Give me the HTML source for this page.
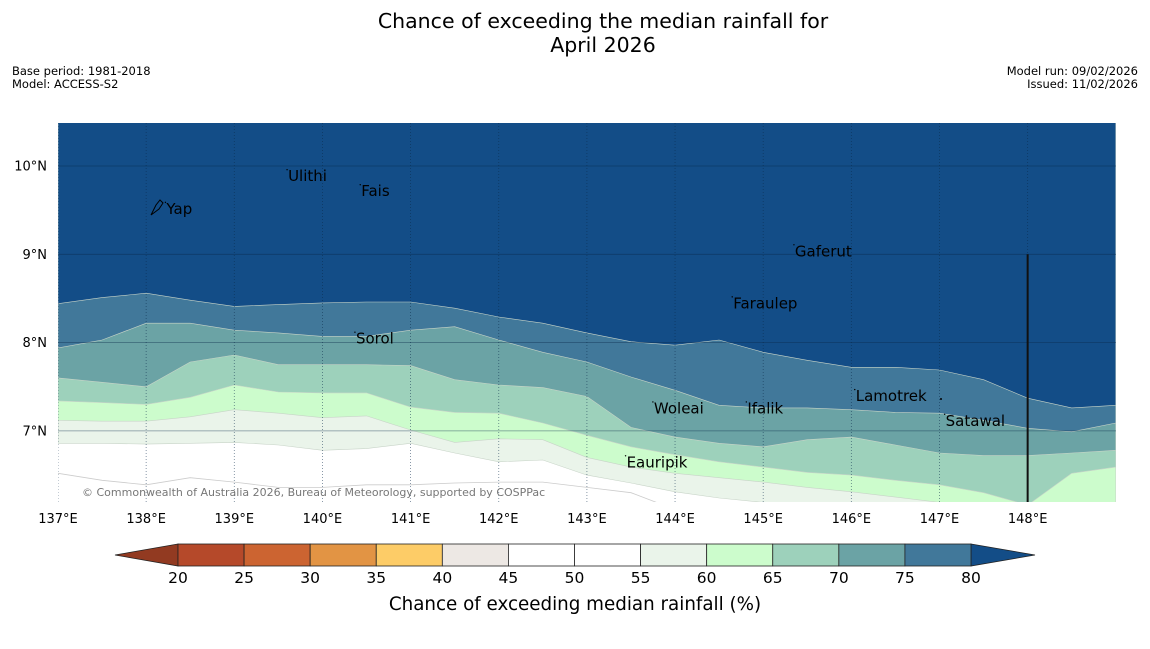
<!DOCTYPE html>
<html><head><meta charset="utf-8">
<style>
body{margin:0;background:#fff;}
svg text{font-family:"DejaVu Sans","Liberation Sans",sans-serif;}
</style></head>
<body>
<svg id="chart" width="1150" height="644" viewBox="0 0 1150 644" xmlns="http://www.w3.org/2000/svg">
<rect width="1150" height="644" fill="#fff"/>
<text x="603" y="28" font-size="20.5" text-anchor="middle" fill="#000">Chance of exceeding the median rainfall for</text>
<text x="603" y="52" font-size="20.5" text-anchor="middle" fill="#000">April 2026</text>
<text x="12" y="75" font-size="11.5">Base period: 1981-2018</text>
<text x="12" y="88" font-size="11.5">Model: ACCESS-S2</text>
<text x="1138" y="75" font-size="11.5" text-anchor="end">Model run: 09/02/2026</text>
<text x="1138" y="88" font-size="11.5" text-anchor="end">Issued: 11/02/2026</text>
<defs><clipPath id="mapclip"><rect x="58" y="123" width="1058" height="379"/></clipPath></defs>
<g id="map" clip-path="url(#mapclip)"></g>
<g id="axes"></g>
<g id="cbar"></g>
<text x="575" y="610" font-size="18.3" text-anchor="middle">Chance of exceeding median rainfall (%)</text>
</svg>
<script>
const lons=[137,137.5,138,138.5,139,139.5,140,140.5,141,141.5,142,142.5,143,143.5,144,144.5,145,145.5,146,146.5,147,147.5,148,148.5,149];
const b50=[6.52,6.44,6.39,6.47,6.42,6.36,6.36,6.39,6.39,6.41,6.42,6.42,6.36,6.30,6.11,5.88,5.88,5.88,5.88,5.88,5.88,5.88,5.88,5.88,5.88];
const b55=[6.86,6.86,6.85,6.86,6.87,6.84,6.78,6.80,6.86,6.75,6.65,6.67,6.50,6.41,6.31,6.24,6.19,6.05,5.88,5.88,5.88,5.88,5.88,5.88,5.88];
const b60=[7.12,7.11,7.11,7.16,7.24,7.20,7.15,7.17,7.01,6.87,6.91,6.90,6.70,6.59,6.52,6.47,6.42,6.36,6.31,6.25,6.19,6.05,5.88,5.88,5.88];
const b65=[7.34,7.32,7.30,7.38,7.52,7.44,7.43,7.43,7.27,7.21,7.20,7.09,6.95,6.82,6.73,6.65,6.59,6.53,6.50,6.44,6.39,6.30,6.16,6.52,6.59];
const b70=[7.60,7.55,7.50,7.78,7.86,7.75,7.75,7.75,7.74,7.58,7.52,7.49,7.39,7.04,6.93,6.86,6.82,6.90,6.93,6.84,6.75,6.72,6.72,6.75,6.78];
const b75=[7.94,8.03,8.22,8.22,8.14,8.11,8.07,8.07,8.14,8.18,8.03,7.89,7.78,7.61,7.46,7.29,7.26,7.26,7.24,7.21,7.20,7.12,7.03,6.99,7.09];
const b80=[8.44,8.51,8.56,8.48,8.41,8.43,8.45,8.46,8.46,8.39,8.29,8.22,8.11,8.01,7.97,8.03,7.89,7.80,7.72,7.72,7.69,7.58,7.37,7.26,7.29];
const cbLevels=[20,25,30,35,40,45,50,55,60,65,70,75,80];
const cbColors=["#b5492a","#cc6431","#e29444","#fdcc67","#ede8e4","#ffffff","#ffffff","#eaf4ea","#ccfccc","#9dd1bb","#6ba3a5","#41789a"];
const lonTicks=[137,138,139,140,141,142,143,144,145,146,147,148];
const latTicks=[10,9,8,7];
const places=[["Yap",138.23,9.52],["Ulithi",139.61,9.89],["Fais",140.44,9.72],["Gaferut",145.36,9.04],["Faraulep",144.66,8.45],["Sorol",140.38,8.05],["Woleai",143.76,7.26],["Ifalik",144.82,7.26],["Lamotrek",146.05,7.40],["Satawal",147.07,7.12],["Eauripik",143.45,6.65]];
const NS="http://www.w3.org/2000/svg";
const X=lon=>58+(lon-137)*88.15;
const Y=lat=>166+(10-lat)*88.3;
function mk(tag,attrs,parent){const e=document.createElementNS(NS,tag);for(const k in attrs)e.setAttribute(k,attrs[k]);parent.appendChild(e);return e;}
const map=document.getElementById('map');
mk('rect',{x:58,y:123,width:1058,height:379,fill:'#ffffff'},map);
const bands=[[b55,"#eaf4ea"],[b60,"#ccfccc"],[b65,"#9dd1bb"],[b70,"#6ba3a5"],[b75,"#41789a"],[b80,"#134d87"]];
const names=['band-55-60','band-60-65','band-65-70','band-70-75','band-75-80','band-above-80'];
bands.forEach((b,i)=>{
  let d='M'+X(lons[0])+','+100;
  lons.forEach((l,j)=>{d+=' L'+X(l).toFixed(1)+','+Y(b[0][j]).toFixed(1);});
  d+=' L'+X(lons[lons.length-1])+',100 Z';
  const p=mk('path',{d:d,fill:b[1],stroke:'#c8d4c8','stroke-width':0.6},map);
  
  
});
let d50='';lons.forEach((l,j)=>{d50+=(j?' L':'M')+X(l).toFixed(1)+','+Y(b50[j]).toFixed(1);});
const c50=mk('path',{d:d50,fill:'none',stroke:'#cccccc','stroke-width':0.8},map);


const ax=document.getElementById('axes');
latTicks.forEach(t=>{
  const g=mk('line',{x1:58,x2:1116,y1:Y(t),y2:Y(t),stroke:'#0a2a4a','stroke-opacity':0.5,'stroke-width':0.8},map);
  
  
  const tx=mk('text',{x:47,y:Y(t)+4.5,'font-size':13,'text-anchor':'end'},ax);tx.textContent=t+'°N';
  
  
});
lonTicks.forEach(t=>{
  const g=mk('line',{x1:X(t),x2:X(t),y1:123,y2:502,stroke:'#0a2a4a','stroke-opacity':0.6,'stroke-width':0.8,'stroke-dasharray':'1,2'},map);
  
  
  const tx=mk('text',{x:X(t),y:523,'font-size':13,'text-anchor':'middle'},ax);tx.textContent=t+'°E';
  
  
});
const vl=mk('line',{x1:X(148),x2:X(148),y1:Y(9),y2:502,stroke:'#111','stroke-width':2},map);


places.forEach(p=>{
  const t=mk('text',{x:X(p[1]),y:Y(p[2])+5.5,'font-size':15,fill:'#000'},map);t.textContent=p[0];
  
  
  const m=mk('circle',{cx:X(p[1])-1,cy:Y(p[2])-6,r:0.7,fill:'#000'},map);
  
  
});
const dot=mk('circle',{cx:941,cy:399,r:1,fill:'#000'},map);


const yap=mk('path',{d:'M151,215 L156,205 L160,200 L163,203 L159,209 Z',fill:'none',stroke:'#000','stroke-width':1},map);


const cp=mk('text',{x:82,y:496,'font-size':11,fill:'#777'},map);cp.textContent='© Commonwealth of Australia 2026, Bureau of Meteorology, supported by COSPPac';


const cb=document.getElementById('cbar');
const CX=v=>178+(v-20)*(793/60);
const y0=544,h=22;
const lt=mk('path',{d:`M${CX(20)},${y0} L115,${y0+h/2} L${CX(20)},${y0+h} Z`,fill:'#923a21',stroke:'#222','stroke-width':0.8},cb);


const rt=mk('path',{d:`M${CX(80)},${y0} L1035,${y0+h/2} L${CX(80)},${y0+h} Z`,fill:'#134d87',stroke:'#222','stroke-width':0.8},cb);


cbColors.forEach((c,i)=>{
  const r=mk('rect',{x:CX(cbLevels[i]),y:y0,width:CX(cbLevels[i+1])-CX(cbLevels[i]),height:h,fill:c,stroke:'#222','stroke-width':0.8},cb);
  
  
});
cbLevels.forEach(v=>{
  const t=mk('text',{x:CX(v),y:583,'font-size':15.5,'text-anchor':'middle'},cb);t.textContent=v;
  
  
});
</script>
</body></html>
